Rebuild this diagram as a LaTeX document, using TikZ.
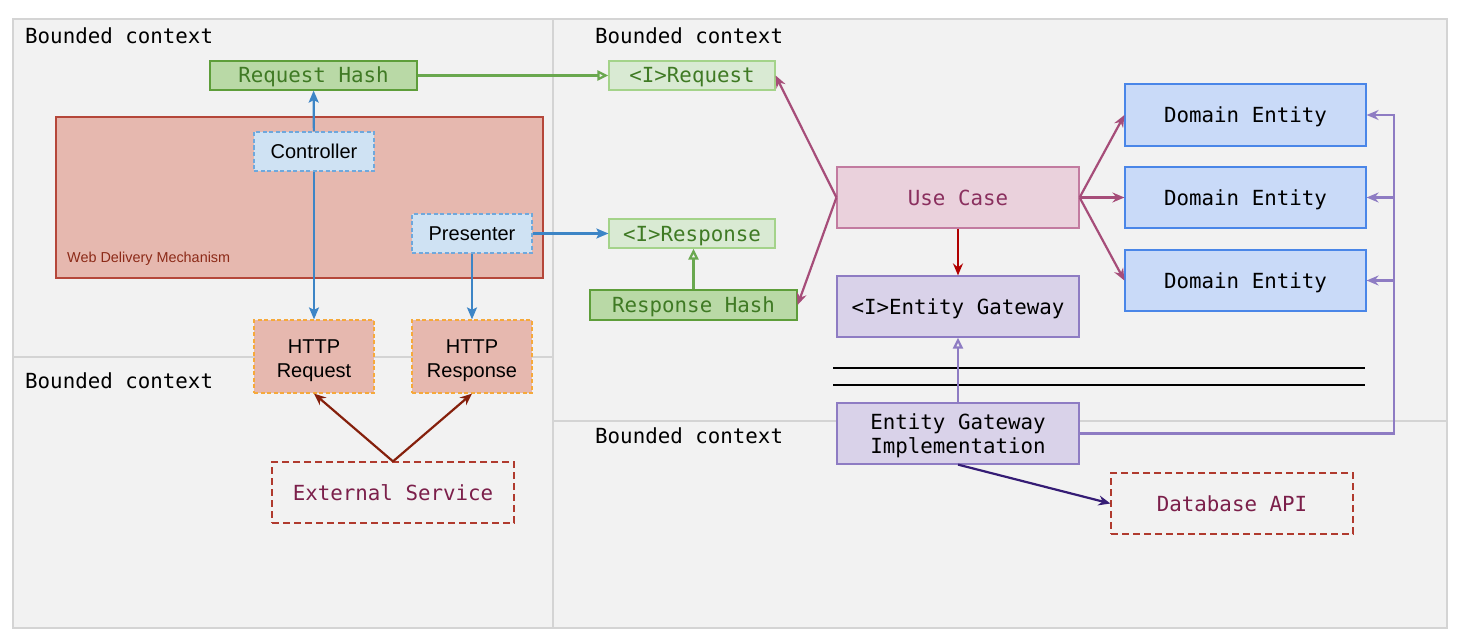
\documentclass[tikz,border=0pt]{standalone}
\usepackage{fontspec}
\setmainfont{Liberation Sans}
\newfontfamily\dmono{DejaVu Sans Mono}
\usetikzlibrary{arrows.meta}
\definecolor{panelfill}{HTML}{F2F2F2}
\definecolor{panelline}{HTML}{D4D4D4}
\definecolor{rhfill}{HTML}{B9D9A6}
\definecolor{rhline}{HTML}{5E9E3A}
\definecolor{greentext}{HTML}{3F7A24}
\definecolor{ifill}{HTML}{D9EAD3}
\definecolor{iline}{HTML}{A4D38A}
\definecolor{greenarrow}{HTML}{6AA84F}
\definecolor{webfill}{HTML}{E6B8AF}
\definecolor{webline}{HTML}{B5473A}
\definecolor{webtext}{HTML}{8C2A18}
\definecolor{ctrlfill}{HTML}{CFE2F3}
\definecolor{ctrlline}{HTML}{6FA8DC}
\definecolor{httpline}{HTML}{F6A93B}
\definecolor{extline}{HTML}{B03A2E}
\definecolor{exttext}{HTML}{7B1F4A}
\definecolor{ucfill}{HTML}{EAD1DC}
\definecolor{ucline}{HTML}{C27BA0}
\definecolor{uctext}{HTML}{8A2F5E}
\definecolor{egfill}{HTML}{D9D2E9}
\definecolor{egline}{HTML}{8E7CC3}
\definecolor{defill}{HTML}{C9DAF8}
\definecolor{deline}{HTML}{4A86E8}
\definecolor{bluearrow}{HTML}{3D85C6}
\definecolor{ucarrow}{HTML}{A64D79}
\definecolor{redarrow}{HTML}{B00000}
\definecolor{navyarrow}{HTML}{351C75}
\definecolor{brownarrow}{HTML}{85200C}
\begin{document}
\begin{tikzpicture}[x=1pt,y=-1pt,
  box/.style={draw, inner sep=0pt, line width=1.2pt},
  mono/.style={font=\dmono\fontsize{20.8}{24}\selectfont, text height=18pt, text depth=3pt},
  monotwo/.style={font=\dmono\fontsize{20.8}{24}\selectfont, align=center, text height=40pt, text depth=0pt},
  sans/.style={font=\fontsize{20}{24}\selectfont, text height=17pt, text depth=3pt},
  sanstwo/.style={font=\fontsize{20}{24}\selectfont, align=center, text height=41pt, text depth=0pt},
  panel/.style={fill=panelfill, draw=panelline, line width=1.2pt},
  conn/.style={line width=2.2pt},
  tipf/.style={-{Stealth[length=12pt,width=10pt,inset=2.5pt]}},
  tipt/.style={-{Stealth[length=12pt,width=10pt,inset=4pt]}},
  tipo/.style={-{Triangle[open,length=11pt,width=10pt,fill=panelfill]}},
  bctx/.style={font=\dmono\fontsize{20.8}{24}\selectfont, anchor=west, text=black, inner sep=0pt},
  dashbox/.style={dash pattern=on 4pt off 2.5pt},
  dashext/.style={dash pattern=on 7pt off 4pt}
]
\useasboundingbox (0,0) rectangle (1460,642);
\fill[white] (0,0) rectangle (1460,642);

% panels
\draw[panel] (13,19) rectangle (553,357);
\draw[panel] (13,357) rectangle (553,628);
\draw[panel] (553,19) rectangle (1447,421);
\draw[panel] (553,421) rectangle (1447,628);

\node[bctx] (bc1) at (25,36) {Bounded context};
\node[bctx] (bc2) at (595,36) {Bounded context};
\node[bctx] (bc3) at (25,381) {Bounded context};
\node[bctx] (bc4) at (595,436) {Bounded context};

% web delivery mechanism
\node[box, fill=webfill, draw=webline, minimum width=487pt, minimum height=161pt] (web) at (299.5,197.5) {};
\node[anchor=west, text=webtext, font=\fontsize{14.4}{16}\selectfont, inner sep=0pt] (weblbl) at (67,259) {Web Delivery Mechanism};

% nodes
\node[box, mono, fill=rhfill, draw=rhline, text=greentext, minimum width=207pt, minimum height=29pt] (reqhash) at (313.5,75.5) {Request Hash};
\node[box, sans, fill=ctrlfill, draw=ctrlline, dashbox, minimum width=120pt, minimum height=39pt] (ctrl) at (314,151.5) {Controller};
\node[box, sans, fill=ctrlfill, draw=ctrlline, dashbox, minimum width=120pt, minimum height=39pt] (pres) at (472,233.5) {Presenter};
\node[box, sanstwo, fill=webfill, draw=httpline, dashbox, minimum width=120pt, minimum height=73pt] (httpreq) at (314,356.5) {HTTP\\Request};
\node[box, sanstwo, fill=webfill, draw=httpline, dashbox, minimum width=120pt, minimum height=73pt] (httpres) at (472,356.5) {HTTP\\Response};
\node[box, mono, draw=extline, text=exttext, dashext, minimum width=242pt, minimum height=61pt] (ext) at (393,492.5) {External Service};

\node[box, mono, fill=ifill, draw=iline, text=greentext, minimum width=166pt, minimum height=29pt] (ireq) at (692,75.5) {<I>Request};
\node[box, mono, fill=ifill, draw=iline, text=greentext, minimum width=166pt, minimum height=29pt] (ires) at (692,233.5) {<I>Response};
\node[box, mono, fill=rhfill, draw=rhline, text=greentext, minimum width=207pt, minimum height=30pt] (reshash) at (693.5,305) {Response Hash};

\node[box, mono, fill=ucfill, draw=ucline, text=uctext, minimum width=242pt, minimum height=61pt] (uc) at (958,197.5) {Use Case};
\node[box, mono, fill=egfill, draw=egline, minimum width=242pt, minimum height=61pt] (ieg) at (958,306.5) {<I>Entity Gateway};
\node[box, monotwo, fill=egfill, draw=egline, minimum width=242pt, minimum height=61pt] (egi) at (958,433.5) {Entity Gateway\\Implementation};
\node[box, mono, draw=extline, text=exttext, dashext, minimum width=242pt, minimum height=61pt] (db) at (1232,503.5) {Database API};

\node[box, mono, fill=defill, draw=deline, minimum width=241pt, minimum height=62pt] (de1) at (1245.5,115) {Domain Entity};
\node[box, mono, fill=defill, draw=deline, minimum width=241pt, minimum height=61pt] (de2) at (1245.5,197.5) {Domain Entity};
\node[box, mono, fill=defill, draw=deline, minimum width=241pt, minimum height=61pt] (de3) at (1245.5,280.5) {Domain Entity};

% separator lines
\coordinate (s1a) at (833,368);
\coordinate (s1b) at (1365,368);
\coordinate (s2a) at (833,385);
\coordinate (s2b) at (1365,385);
\draw[line width=1.2pt] (s1a) -- (s1b);
\draw[line width=1.2pt] (s2a) -- (s2b);

% connectors
\draw[conn, bluearrow, tipf] (ctrl) -- (reqhash);
\draw[conn, bluearrow, tipf] (ctrl) -- (httpreq);
\draw[conn, bluearrow, tipf] (pres) -- (httpres);
\draw[conn, bluearrow, tipf] (pres.east) -- (ires.west);
\draw[conn, greenarrow, tipo] (reqhash.east) -- (ireq.west);
\draw[conn, greenarrow, tipo] (reshash.north) -- (reshash.north |- ires.south);
\draw[conn, ucarrow, tipt] (uc.west) -- (ireq.east);
\draw[conn, ucarrow, tipt] (uc.west) -- (reshash.east);
\draw[conn, ucarrow, tipt] (uc.east) -- (de1.west);
\draw[conn, ucarrow, tipt] (uc.east) -- (de2.west);
\draw[conn, ucarrow, tipt] (uc.east) -- (de3.west);
\draw[conn, redarrow, tipt] (uc.south) -- (ieg.north);
\draw[conn, egline, tipo] (egi.north) -- (ieg.south);
\coordinate (bus) at (1394,115);
\draw[conn, egline, tipt] (egi.east) -| (bus) -- (de1.east);
\draw[conn, egline, tipt] (de2.east -| bus) -- (de2.east);
\draw[conn, egline, tipt] (de3.east -| bus) -- (de3.east);
\draw[conn, navyarrow, tipt] (egi.south) -- (db.west);
\draw[conn, brownarrow, tipt] (ext.north) -- (httpreq.south);
\draw[conn, brownarrow, tipt] (ext.north) -- (httpres.south);
\end{tikzpicture}
\end{document}
